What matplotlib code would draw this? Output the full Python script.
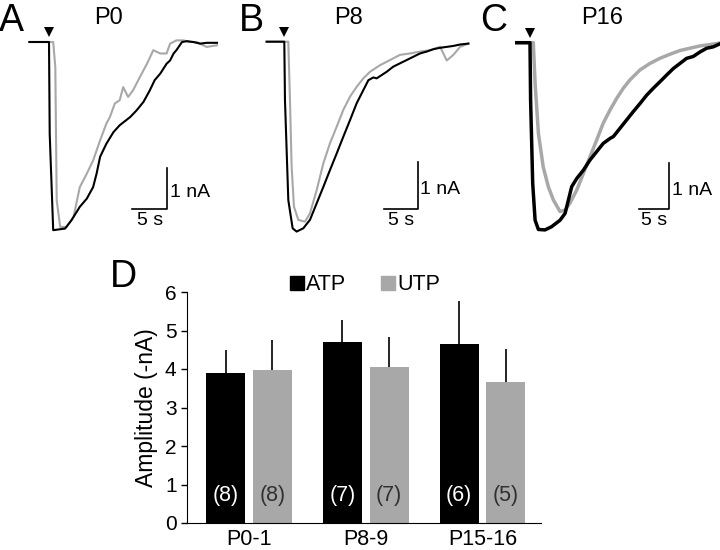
import matplotlib.pyplot as plt
from matplotlib.patches import Patch

plt.rcParams['font.family'] = ['Liberation Sans', 'DejaVu Sans']

# Current traces: time from agonist onset (s), current (nA)
a_atp_t = [-2.8, 0, 0.1, 0.6, 2.3, 3.2, 4.4, 5.4, 6.3, 6.8, 7.3, 8.2, 9.2, 10.1,
           11.6, 12.5, 13.5, 14.4, 15.1, 15.9, 16.8, 17.3, 17.8, 18.2, 19.0,
           19.7, 20.6, 21.6, 22.5, 24.0]
a_atp_i = [0, 0, -2.24, -4.59, -4.55, -4.35, -4.02, -3.82, -3.54, -3.21, -2.80,
           -2.48, -2.20, -2.03, -1.83, -1.67, -1.46, -1.18, -0.93, -0.77, -0.53,
           -0.45, -0.28, -0.20, 0, 0.02, 0, -0.04, -0.02, -0.02]
a_utp_t = [-2.8, 0.6, 0.9, 1.1, 1.6, 2.5, 3.5, 4.4, 5.4, 6.3, 7.3, 8.2, 8.7, 9.4,
           10.1, 10.6, 11.3, 12.0, 13.0, 14.0, 14.9, 15.9, 16.8, 17.3, 18.2,
           19.2, 20.1, 21.1, 22.5, 24.0]
a_utp_i = [0, 0, -0.61, -3.86, -4.51, -4.51, -4.27, -3.54, -3.21, -2.89, -2.40,
           -1.99, -1.83, -1.50, -1.42, -1.10, -1.34, -1.18, -0.85, -0.53, -0.20,
           -0.28, -0.28, -0.04, 0.04, 0.04, 0, 0, -0.12, -0.08]

b_atp_t = [-2.65, 0, 0.1, 0.6, 1.25, 1.85, 2.85, 3.85, 4.85, 5.85, 6.85, 7.85,
           8.85, 9.85, 10.85, 11.85, 12.6, 13.35, 13.85, 14.6, 15.35, 16.35,
           17.35, 18.35, 19.35, 20.35, 21.35, 22.35, 23.35, 24.35, 25.35,
           26.35, 27.6]
b_atp_i = [0, 0, -1.24, -3.37, -3.97, -4.04, -3.97, -3.79, -3.44, -3.09, -2.73,
           -2.38, -2.02, -1.67, -1.31, -1.03, -0.82, -0.76, -0.78, -0.71, -0.64,
           -0.53, -0.46, -0.39, -0.32, -0.25, -0.21, -0.16, -0.13, -0.11, -0.09,
           -0.06, -0.04]
b_utp_t = [-2.65, 0.6, 0.85, 1.1, 1.45, 2.1, 3.1, 3.85, 4.85, 5.85, 6.85, 7.85,
           8.85, 9.85, 10.85, 11.85, 12.85, 14.35, 15.85, 17.35, 18.85, 20.35,
           21.85, 23.35, 23.85, 24.35, 25.35, 26.35, 27.6]
b_utp_i = [0, 0, -1.24, -2.66, -3.51, -3.79, -3.83, -3.65, -3.16, -2.59, -2.16,
           -1.81, -1.45, -1.17, -0.96, -0.78, -0.64, -0.50, -0.39, -0.28, -0.25,
           -0.21, -0.18, -0.11, -0.25, -0.40, -0.28, -0.11, -0.04]

c_atp_t = [-2.2, 0, 0.1, 0.45, 0.85, 1.4, 2.5, 3.6, 5.0, 5.85, 6.4, 6.95, 7.8,
           8.9, 10.0, 11.1, 12.2, 13.35, 13.9, 15.0, 16.1, 17.2, 18.35, 19.45,
           20.55, 21.65, 22.8, 23.9, 25.0, 26.1, 27.2, 28.35, 29.45, 30.55,
           31.55]
c_atp_i = [0, 0, -1.25, -3.06, -3.86, -4.06, -4.07, -4.0, -3.86, -3.71, -3.42,
           -3.13, -2.95, -2.77, -2.55, -2.37, -2.19, -2.08, -2.04, -1.86, -1.68,
           -1.5, -1.32, -1.14, -0.99, -0.85, -0.70, -0.56, -0.45, -0.34, -0.30,
           -0.20, -0.12, -0.09, -0.03]
c_utp_t = [-2.2, 0.55, 0.85, 1.4, 2.2, 3.05, 3.9, 5.0, 5.85, 6.65, 7.8, 8.9,
           10.0, 11.1, 12.2, 13.35, 14.45, 15.55, 16.65, 18.35, 20.0, 21.65,
           23.35, 25.0, 26.65, 28.35, 30.0, 31.55]
c_utp_i = [0, 0, -0.88, -1.97, -2.7, -3.13, -3.42, -3.67, -3.64, -3.49, -3.2,
           -2.84, -2.48, -2.12, -1.75, -1.46, -1.21, -0.99, -0.81, -0.59, -0.45,
           -0.34, -0.25, -0.17, -0.12, -0.07, -0.04, -0.01]

# Summary amplitudes (-nA)
groups = ['P0-1', 'P8-9', 'P15-16']
atp_mean = [3.89, 4.69, 4.66]
atp_err = [0.60, 0.57, 1.11]
utp_mean = [3.97, 4.04, 3.66]
utp_err = [0.78, 0.80, 0.85]
atp_n = ['(8)', '(7)', '(6)']
utp_n = ['(8)', '(7)', '(5)']

W, H = 720, 550
BLACK = '#000000'
GRAY = '#a8a8a8'

fig = plt.figure(figsize=(7.2, 5.5), dpi=100)


def px_axes(left, top, width, height):
    return fig.add_axes([left / W, 1 - (top + height) / H, width / W, height / H])


def trace_panel(left, t0, base, px_s, px_na, atp, utp, bar_at, lw, title, tx):
    ax = px_axes(left, 0, 240, 240)
    ax.set_xlim((left - t0) / px_s, (left + 240 - t0) / px_s)
    ax.set_ylim(-(240 - base) / px_na, base / px_na)
    ax.axis('off')
    ax.plot(utp[0], utp[1], color=GRAY, lw=lw, solid_joinstyle='round')
    ax.plot(atp[0], atp[1], color=BLACK, lw=lw, solid_joinstyle='round')
    # onset marker
    ax.plot(0, 10 / px_na, marker='v', color='k', ms=7, mew=0)
    # scale bar: 5 s, 1 nA
    sx, sy = bar_at
    ax.plot([sx - 5, sx, sx], [sy, sy, sy + 1], color='k', lw=1.2)
    ax.annotate('1 nA', xy=(sx, sy + 0.5), xytext=(2, -3),
                textcoords='offset points', ha='left', va='center', fontsize=14)
    ax.annotate('5 s', xy=(sx - 2.5, sy), xytext=(0, -2),
                textcoords='offset points', ha='center', va='top', fontsize=14)
    ax.text(tx, 0.927, title, transform=ax.transAxes, ha='center',
            va='center', fontsize=17)
    return ax


trace_panel(0, 49, 42, 7.0, 41, (a_atp_t, a_atp_i), (a_utp_t, a_utp_i),
            (16.9, -4.07), 1.5, 'P0', 0.454)
trace_panel(240, 284.3, 41.7, 6.67, 47, (b_atp_t, b_atp_i), (b_utp_t, b_utp_i),
            (20.0, -3.56), 1.5, 'P8', 0.454)
trace_panel(480, 530, 42.7, 6.0, 46, (c_atp_t, c_atp_i), (c_utp_t, c_utp_i),
            (23.2, -3.62), 2.5, 'P16', 0.51)

for x, y, letter in [(-1, 31, 'A'), (239, 31, 'B'), (480, 31, 'C'), (110, 287, 'D')]:
    fig.text(x / W, 1 - y / H, letter, fontsize=27, ha='left', va='baseline')

# Bar chart
ax = px_axes(187, 292, 354, 231)
xs = list(range(len(groups)))
off, bw = 0.2, 0.333
ax.bar([x - off for x in xs], atp_mean, bw, color=BLACK)
ax.bar([x + off for x in xs], utp_mean, bw, color=GRAY)
ax.errorbar([x - off for x in xs], atp_mean, yerr=[[0] * 3, atp_err],
            fmt='none', ecolor='k', elinewidth=1.2, capsize=0)
ax.errorbar([x + off for x in xs], utp_mean, yerr=[[0] * 3, utp_err],
            fmt='none', ecolor='k', elinewidth=1.2, capsize=0)
for x, a, u in zip(xs, atp_n, utp_n):
    ax.text(x - off, 0.71, a, color='white', ha='center', va='center', fontsize=15.5)
    ax.text(x + off, 0.71, u, color='#303030', ha='center', va='center', fontsize=15.5)

ax.set_xlim(-0.53, 2.50)
ax.set_ylim(0, 6)
ax.set_xticks(xs)
ax.set_xticklabels(groups, fontsize=15.5)
ax.set_yticks(range(7))
ax.tick_params(axis='y', labelsize=15, direction='out', length=4, width=1)
ax.tick_params(axis='x', length=0, pad=4)
ax.spines['top'].set_visible(False)
ax.spines['right'].set_visible(False)
ax.set_ylabel('Amplitude (-nA)', fontsize=16.5, labelpad=5)

ax.legend(handles=[Patch(color=BLACK, label='ATP'), Patch(color=GRAY, label='UTP')],
          loc='center', bbox_to_anchor=(365 / W, 1 - 285 / H),
          bbox_transform=fig.transFigure, ncol=2, frameon=False, fontsize=15.5,
          handlelength=0.65, handleheight=0.65, handletextpad=0.1,
          columnspacing=1.6, borderpad=0)

fig.savefig('out.png', dpi=100)
